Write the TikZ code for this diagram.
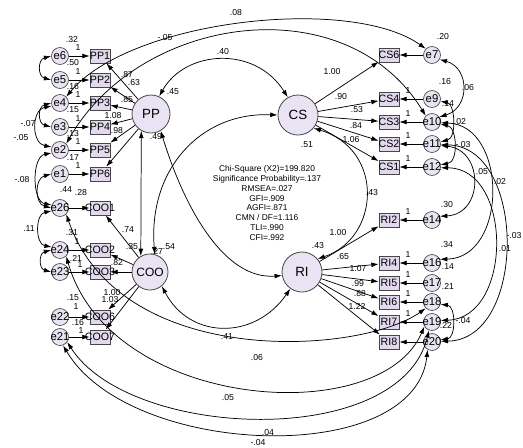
\documentclass[tikz,border=0pt]{standalone}
\usepackage{fontspec}
\setmainfont{Liberation Sans}
\usetikzlibrary{arrows.meta}
\definecolor{lav}{RGB}{234,227,243}
\definecolor{lavbox}{RGB}{226,217,238}
\definecolor{edgec}{RGB}{70,70,70}
\tikzset{
 lat/.style={circle,draw=edgec,line width=0.6pt,fill=lav,inner sep=0pt,minimum size=#1},
 errc/.style={circle,draw=edgec,line width=0.5pt,fill=lav,inner sep=0pt,minimum size=12.75pt,label={[etxt]center:#1}},
 etxt/.style={font=\fontsize{8.5}{8.5}\selectfont,inner sep=0pt},
 ind/.style={rectangle,draw=edgec,line width=0.5pt,fill=lavbox,inner sep=0pt,minimum width=15pt,minimum height=10.5pt,label={[btxt]center:#1}},
 btxt/.style={font=\fontsize{8}{8}\selectfont,inner sep=0pt},
 arr/.style={-{Latex[length=5.5pt,width=3.6pt]},line width=0.55pt},
 cov/.style={{Latex[length=5.5pt,width=3.6pt]}-{Latex[length=5.5pt,width=3.6pt]},line width=0.55pt},
 num/.style={font=\fontsize{6.5}{6.5}\selectfont,inner sep=0pt},
 fitstxt/.style={font=\fontsize{6.3}{7.3}\selectfont,align=center,inner sep=0pt},
}
\begin{document}
\begin{tikzpicture}[x=0.75pt,y=-0.75pt]
\fill[white] (0,0) rectangle (523,447);
\useasboundingbox (0,0) rectangle (523,447);

% latent variables
\node[lat=28.5pt,font=\fontsize{10}{10}\selectfont] (pp) at (151,114) {PP};
\node[lat=30pt,font=\fontsize{10}{10}\selectfont] (cs) at (298,115) {CS};
\node[lat=27pt,font=\fontsize{9}{9}\selectfont] (coo) at (150,272) {COO};
\node[lat=30pt,font=\fontsize{10}{10}\selectfont] (ri) at (302,272) {RI};

% left indicators and errors
\node[ind=PP1] (pp1) at (100,56) {};
\node[ind=PP2] (pp2) at (100,80) {};
\node[ind=PP3] (pp3) at (100,103) {};
\node[ind=PP4] (pp4) at (100,127) {};
\node[ind=PP5] (pp5) at (100,150) {};
\node[ind=PP6] (pp6) at (100,174) {};
\node[ind=COO1] (coo1) at (100,208) {};
\node[ind=COO2] (coo2) at (100,250) {};
\node[ind=COO3] (coo3) at (100,272) {};
\node[ind=COO6] (coo6) at (100,317) {};
\node[ind=COO7] (coo7) at (100,337) {};
\node[errc=e6] (e6) at (60,56) {};
\node[errc=e5] (e5) at (60,80) {};
\node[errc=e4] (e4) at (60,103) {};
\node[errc=e3] (e3) at (60,127) {};
\node[errc=e2] (e2) at (60,150) {};
\node[errc=e1] (e1) at (60,174) {};
\node[errc=e26] (e26) at (60,208) {};
\node[errc=e24] (e24) at (60,250) {};
\node[errc=e23] (e23) at (60,272) {};
\node[errc=e22] (e22) at (60,317) {};
\node[errc=e21] (e21) at (60,337) {};

% right indicators and errors
\node[ind=CS6] (cs6) at (389,55) {};
\node[ind=CS4] (cs4) at (389,99) {};
\node[ind=CS3] (cs3) at (389,122) {};
\node[ind=CS2] (cs2) at (389,144) {};
\node[ind=CS1] (cs1) at (389,167) {};
\node[ind=RI2] (ri2) at (389,220) {};
\node[ind=RI4] (ri4) at (389,263) {};
\node[ind=RI5] (ri5) at (389,283) {};
\node[ind=RI6] (ri6) at (389,302) {};
\node[ind=RI7] (ri7) at (389,322) {};
\node[ind=RI8] (ri8) at (389,342) {};
\node[errc=e7] (e7) at (432,55) {};
\node[errc=e9] (e9) at (432,99) {};
\node[errc=e10] (e10) at (432,122) {};
\node[errc=e11] (e11) at (432,144) {};
\node[errc=e12] (e12) at (432,167) {};
\node[errc=e14] (e14) at (432,220) {};
\node[errc=e16] (e16) at (432,263) {};
\node[errc=e17] (e17) at (432,283) {};
\node[errc=e18] (e18) at (432,302) {};
\node[errc=e19] (e19) at (432,322) {};
\node[errc=e20] (e20) at (432,342) {};

% error -> indicator
\foreach \e/\b in {e6/pp1,e5/pp2,e4/pp3,e3/pp4,e2/pp5,e1/pp6,e26/coo1,e24/coo2,e23/coo3,e22/coo6,e21/coo7,
 e7/cs6,e9/cs4,e10/cs3,e11/cs2,e12/cs1,e14/ri2,e16/ri4,e17/ri5,e18/ri6,e19/ri7,e20/ri8}
 \draw[arr] (\e) -- (\b);

% loadings
\foreach \b in {pp1,pp2,pp3,pp4,pp5,pp6} \draw[arr] (pp) -- (\b);
\foreach \b in {coo1,coo2,coo3,coo6,coo7} \draw[arr] (coo) -- (\b);
\foreach \b in {cs6,cs4,cs3,cs2,cs1} \draw[arr] (cs) -- (\b);
\foreach \b in {ri2,ri4,ri5,ri6,ri7,ri8} \draw[arr] (ri) -- (\b);

% latent covariances
\draw[cov] (pp.65) .. controls (185,50) and (255,45) .. (cs.120);
\draw[cov] (pp.240) -- (coo.120);
\draw[cov] (coo.75) .. controls (148,170) and (200,112) .. (cs.west);
\draw[cov] (pp.-60) .. controls (185,210) and (225,280) .. (ri.190);
\draw[cov] (coo.-50) .. controls (190,340) and (255,340) .. (ri.235);
\draw[cov] (cs.-40) .. controls (385,150) and (380,238) .. (ri.40);

% left error covariances
\draw[cov] (e6.west) to[out=195,in=165,looseness=1.5] (e5.west);
\draw[cov] (e4.west) to[out=195,in=165,looseness=1.5] (e3.west);
\draw[cov] (e4.200) to[out=190,in=170,looseness=1.3] (e2.160);
\draw[cov] (e2.200) to[out=190,in=170,looseness=1.0] (e26.160);
\draw[cov] (e1.west) to[out=195,in=165,looseness=1.3] (e26.west);
\draw[cov] (e26.200) to[out=190,in=170,looseness=1.2] (e24.160);
\draw[cov] (e24.west) to[out=195,in=165,looseness=1.5] (e23.west);

% long covariances across the top
\draw[cov] (e4.north east) .. controls (130,20) and (350,-5) .. (e7.north west);
\draw[cov] (e2.north east) .. controls (140,15) and (345,-15) .. (e10.north west);

% long covariances across the bottom
\draw[cov] (e26.south east) .. controls (120,370) and (360,355) .. (e18.south west);
\draw[cov] (e24.south east) .. controls (110,410) and (380,430) .. (e19.-150);
\draw[cov] (e21.-35) .. controls (130,440) and (400,450) .. (e19.-110);
\draw[cov] (e21.-70) .. controls (130,458) and (415,468) .. (e20.-120);

% right error covariances
\draw[cov] (e7.-30) .. controls (470,68) and (470,108) .. (e10.35);
\draw[cov] (e9.-15) .. controls (455,104) and (457,138) .. (e11.15);
\draw[cov] (e10.-15) .. controls (457,127) and (459,162) .. (e12.15);
\draw[cov] (e11.-10) .. controls (484,150) and (484,214) .. (e14.25);
\draw[cov] (e10.-5) .. controls (508,125) and (508,258) .. (e16.25);
\draw[cov] (e11.-5) .. controls (527,146) and (527,340) .. (e20.5);
\draw[cov] (e12.-5) .. controls (513,168) and (513,318) .. (e19.10);
\draw[cov] (e18.-15) .. controls (456,306) and (456,338) .. (e20.15);

% fit statistics
\node[fitstxt] (fitstats) at (267,203) {Chi-Square (X2)=199.820\\Significance Probability=.137\\RMSEA=.027\\GFI=.909\\AGFI=.871\\CMN / DF=1.116\\TLI=.990\\CFI=.992};

% left error variances and fixed weights
\node[num] (v6) at (72,40) {.32};
\node[num] (v5) at (73,63) {.50};
\node[num] (v4) at (73,87) {.16};
\node[num] (v3) at (73,110) {.15};
\node[num] (v2) at (73,134) {.13};
\node[num] (v1) at (73,158) {.17};
\node[num] (v26) at (66,190) {.44};
\node[num] (v26b) at (81,193) {.28};
\node[num] (v24) at (72,233) {.31};
\node[num] (v23) at (76,258) {.21};
\node[num] (v22) at (73,298) {.15};
\node[num] (v21) at (78,323) {.16};
\node[num] (w6) at (78,48) {1};
\node[num] (w5) at (78,72) {1};
\node[num] (w4) at (78,95) {1};
\node[num] (w3) at (78,119) {1};
\node[num] (w2) at (78,142) {1};
\node[num] (w1) at (78,166) {1};
\node[num] (w24) at (77,242) {1};
\node[num] (w23) at (80,265) {1};
\node[num] (w22) at (76,307) {1};
\node[num] (w21) at (81,331) {1};
\node[num] (c1) at (28,124) {-.07};
\node[num] (c2) at (21,138) {-.05};
\node[num] (c3) at (22,180) {-.08};
\node[num] (c4) at (29,229) {.11};

% PP and COO labels
\node[num] (lp1) at (127,75) {.87};
\node[num] (lp2) at (134,83) {.63};
\node[num] (lp3) at (127,100) {.85};
\node[num] (lp4) at (113,116) {1.08};
\node[num] (lp5) at (117,131) {.98};
\node[num] (vpp) at (173,92) {.45};
\node[num] (lpp) at (156,137) {.49};
\node[num] (lc1) at (128,230) {.74};
\node[num] (lc2) at (132,247) {.35};
\node[num] (vcoo) at (157,251) {.27};
\node[num] (lc3) at (169,247) {.54};
\node[num] (lc4) at (117,263) {.82};
\node[num] (lc5) at (112,293) {1.00};
\node[num] (lc6) at (110,300) {1.03};

% top / bottom covariance labels
\node[num] (t1) at (236,13) {.08};
\node[num] (t2) at (165,38) {-.05};
\node[num] (t3) at (223,52) {.40};
\node[num] (b1) at (227,337) {.41};
\node[num] (b2) at (257,358) {.06};
\node[num] (b3) at (228,398) {.05};
\node[num] (b4) at (268,433) {.04};
\node[num] (b5) at (258,443) {-.04};

% CS and RI labels
\node[num] (ls1) at (332,72) {1.00};
\node[num] (ls2) at (341,97) {.90};
\node[num] (ls3) at (357,110) {.53};
\node[num] (ls4) at (356,126) {.84};
\node[num] (ls5) at (351,140) {1.06};
\node[num] (vcs) at (307,145) {.51};
\node[num] (lcr) at (372,193) {.43};
\node[num] (lr1) at (338,233) {1.00};
\node[num] (vri) at (318,246) {.43};
\node[num] (lr2) at (343,257) {.65};
\node[num] (lr3) at (358,269) {1.07};
\node[num] (lr4) at (358,284) {.99};
\node[num] (lr5) at (360,294) {.88};
\node[num] (lr6) at (357,306) {1.22};

% right error variances, weights and covariances
\node[num] (v7) at (443,37) {.20};
\node[num] (v9) at (445,82) {.16};
\node[num] (v9b) at (448,104) {.14};
\node[num] (v14) at (447,205) {.30};
\node[num] (v16) at (447,245) {.34};
\node[num] (v16b) at (448,267) {.14};
\node[num] (v17) at (448,286) {.21};
\node[num] (v19) at (446,325) {.22};
\node[num] (r1) at (468,88) {.06};
\node[num] (r2) at (460,122) {.02};
\node[num] (r3) at (463,145) {-.03};
\node[num] (r4) at (482,172) {.05};
\node[num] (r5) at (500,182) {.02};
\node[num] (r6) at (514,236) {-.03};
\node[num] (r7) at (505,249) {.01};
\node[num] (r8) at (463,321) {-.04};
\node[num] (u9) at (408,91) {1};
\node[num] (u10) at (408,114) {1};
\node[num] (u11) at (408,136) {1};
\node[num] (u12) at (408,159) {1};
\node[num] (u14) at (408,212) {1};
\node[num] (u16) at (408,255) {1};
\node[num] (u17) at (408,275) {1};
\node[num] (u18) at (408,294) {1};
\node[num] (u19) at (408,314) {1};
\end{tikzpicture}
\end{document}
